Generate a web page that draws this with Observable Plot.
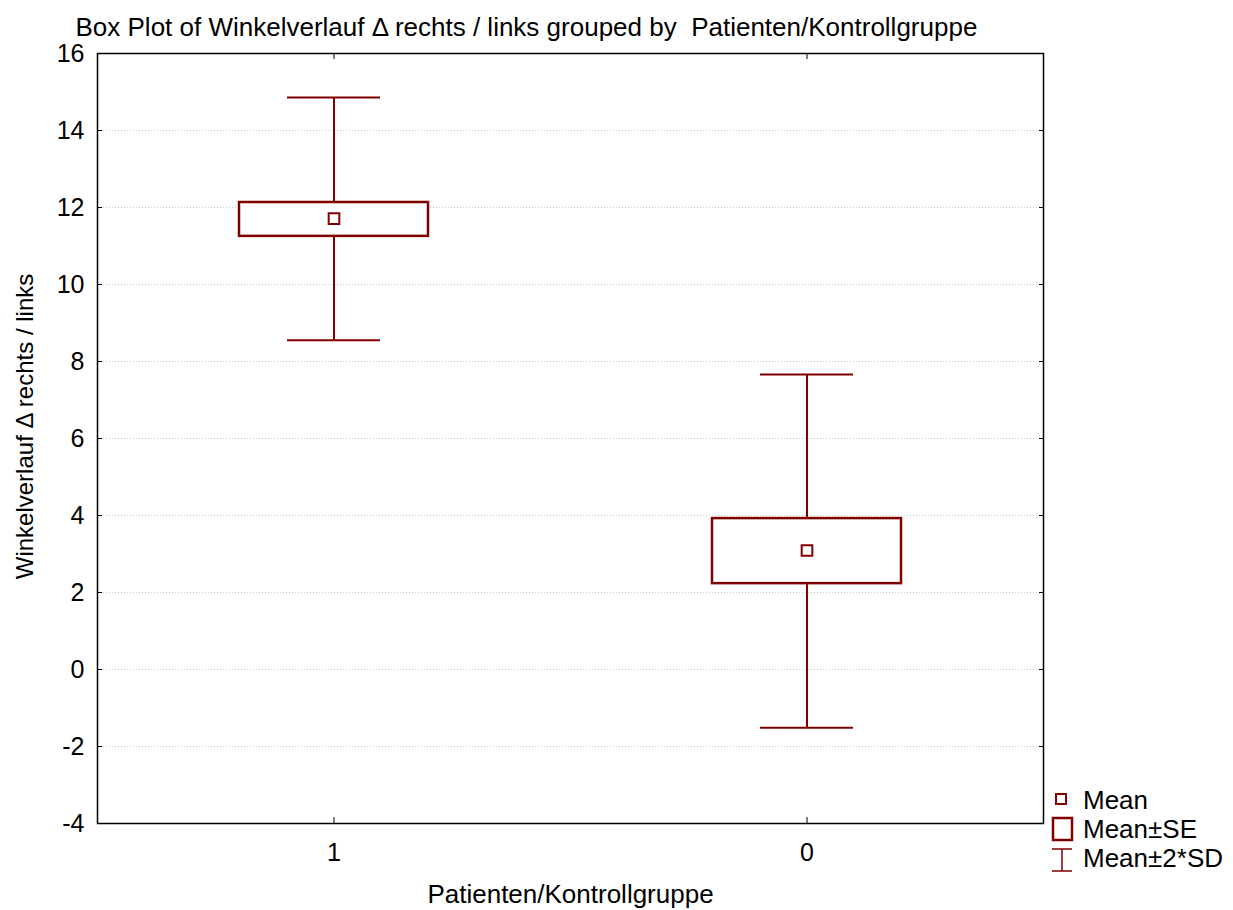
<!DOCTYPE html>
<html><head><meta charset="utf-8">
<script src="https://cdn.jsdelivr.net/npm/d3@7"></script>
<script src="https://cdn.jsdelivr.net/npm/@observablehq/plot@0.6"></script>
<style>
body{margin:0;background:#fff;}
#wrap{position:relative;width:1233px;height:910px;font-family:"Liberation Sans",Arial,sans-serif;}
#legend{position:absolute;left:1045px;top:785px;}
svg text{white-space:pre;}
</style></head><body>
<div id="wrap"><div id="chart"></div><svg id="legend" width="188" height="95"></svg></div>
<script>
const groups = ["1", "0"];
const means = [11.71, 3.09];
const seLow = [11.25, 2.23];
const seHigh = [12.13, 3.92];
const sdLow = [8.55, -1.51];
const sdHigh = [14.86, 7.66];
const yTicks = [-4, -2, 0, 2, 4, 6, 8, 10, 12, 14, 16];
const title = "Box Plot of Winkelverlauf Δ rechts / links grouped by  Patienten/Kontrollgruppe";
const xLabel = "Patienten/Kontrollgruppe";
const yLabel = "Winkelverlauf Δ rechts / links";
const legendLabels = ["Mean", "Mean±SE", "Mean±2*SD"];
const color = "#800000";
const font = "'Liberation Sans', Arial, sans-serif";
const fs = 25;

const data = groups.map((g, i) => ({g, mean: means[i], seLow: seLow[i], seHigh: seHigh[i], sdLow: sdLow[i], sdHigh: sdHigh[i]}));

const chart = Plot.plot({
  width: 1233, height: 910,
  marginLeft: 97, marginRight: 190, marginTop: 53, marginBottom: 87,
  style: {fontFamily: font, fontSize: fs + "px", color: "black", background: "white"},
  x: {type: "band", domain: groups, paddingInner: 0.6, paddingOuter: 0.3, label: null},
  y: {domain: [-4, 16], label: null},
  marks: [
    Plot.ruleY(yTicks.filter(t => t > -4 && t < 16), {stroke: "#c8c8c8", strokeDasharray: "1,2"}),
    Plot.ruleX(data, {x: "g", y1: "sdLow", y2: "sdHigh", stroke: color, strokeWidth: 2}),
    Plot.tickY(data, {x: "g", y: "sdLow", stroke: color, strokeWidth: 2, insetLeft: 48, insetRight: 48}),
    Plot.tickY(data, {x: "g", y: "sdHigh", stroke: color, strokeWidth: 2, insetLeft: 48, insetRight: 48}),
    Plot.barY(data, {x: "g", y1: "seLow", y2: "seHigh", fill: "white", stroke: color, strokeWidth: 2.5}),
    Plot.dot(data, {x: "g", y: "mean", symbol: "square", r: 6, fill: "white", stroke: color, strokeWidth: 2}),
    Plot.frame({stroke: "black", strokeWidth: 1.5}),
    Plot.axisY(yTicks, {anchor: "left", tickSize: -5, tickPadding: 18, label: null, fontSize: fs, tickFormat: d => String(d)}),
    Plot.axisY(yTicks, {anchor: "right", tickSize: -5, tickFormat: () => "", label: null}),
    Plot.axisX({anchor: "bottom", tickSize: -6, tickPadding: 26, label: null, fontSize: fs}),
    Plot.axisX({anchor: "top", tickSize: -5, tickFormat: () => "", label: null}),
    Plot.text([title], {text: d => d, frameAnchor: "top-left", textAnchor: "start", lineAnchor: "middle", dx: -22, dy: -26, fontSize: 26}),
    Plot.text([yLabel], {text: d => d, frameAnchor: "left", textAnchor: "middle", rotate: -90, lineAnchor: "middle", dx: -72, dy: -12, fontSize: 24}),
    Plot.text([xLabel], {text: d => d, frameAnchor: "bottom", textAnchor: "middle", lineAnchor: "middle", dy: 71, fontSize: 26})
  ]
});
document.getElementById("chart").appendChild(chart);

// legend
const lg = d3.select("#legend");
lg.append("rect").attr("x", 11).attr("y", 9).attr("width", 10).attr("height", 10)
  .attr("fill", "white").attr("stroke", color).attr("stroke-width", 2);
lg.append("rect").attr("x", 8).attr("y", 33).attr("width", 19).attr("height", 22)
  .attr("fill", "white").attr("stroke", color).attr("stroke-width", 2.5);
lg.append("path").attr("d", "M7,64H27M17,64V86M7,86H27").attr("fill", "none")
  .attr("stroke", color).attr("stroke-width", 1.5);
const ys = [15, 44, 73];
legendLabels.forEach((t, i) => {
  lg.append("text").attr("x", 38).attr("y", ys[i]).attr("dy", "0.35em")
    .attr("font-size", 26).attr("font-family", font).text(t);
});
</script>
</body></html>
